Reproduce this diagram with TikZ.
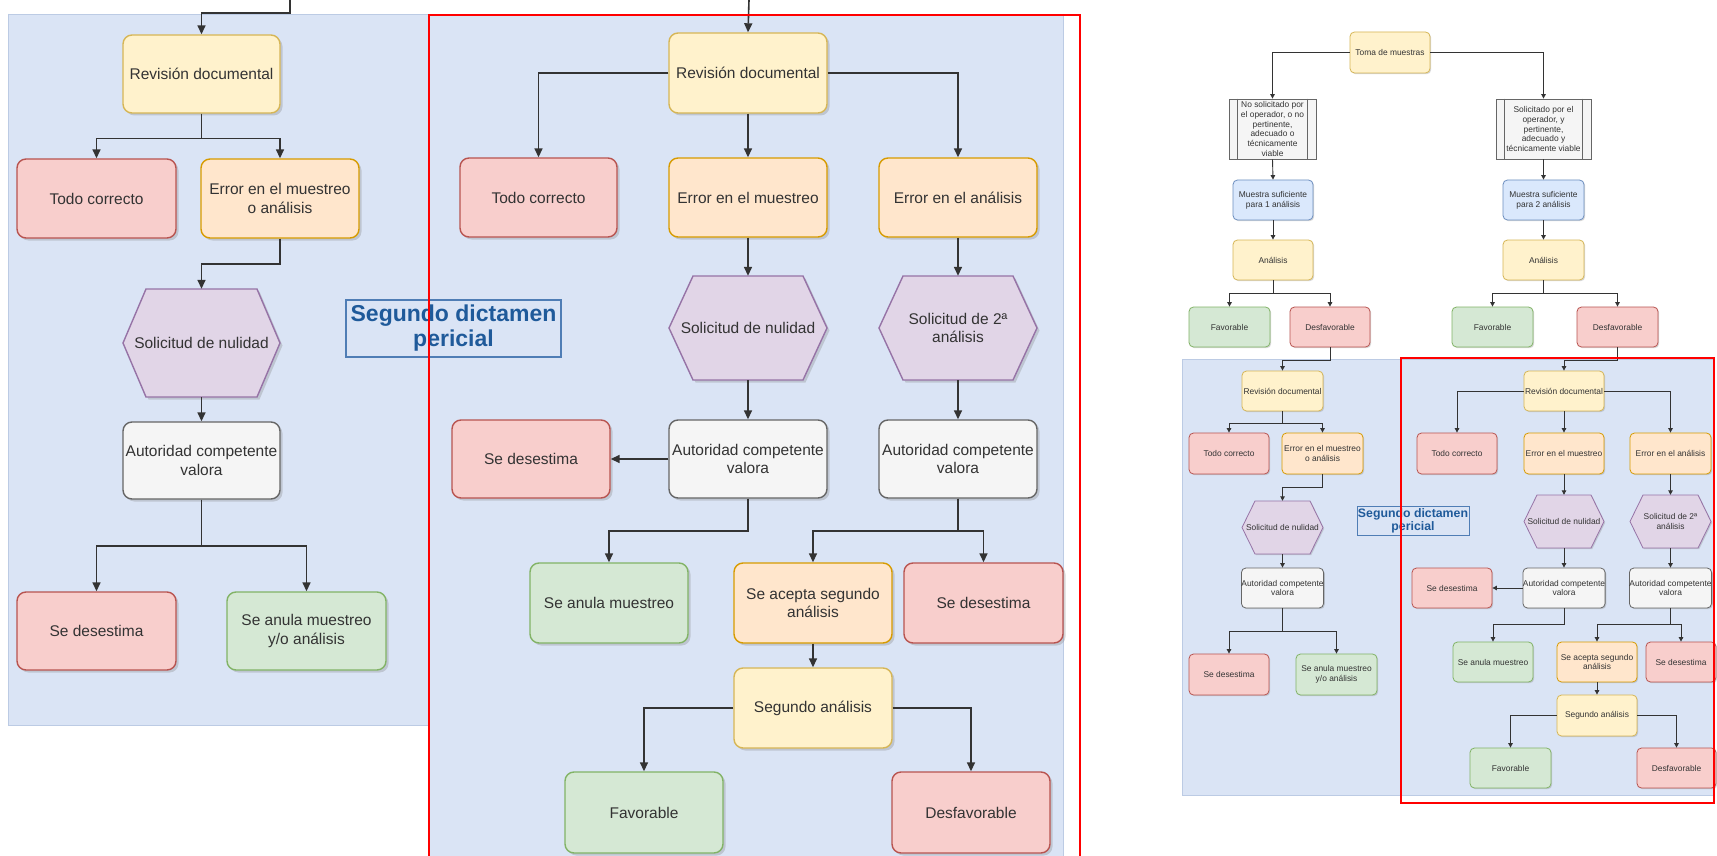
\documentclass[tikz,border=0pt]{standalone}
\usepackage{fontspec}
\setmainfont{Liberation Sans}
\usetikzlibrary{arrows.meta,shadows}

\definecolor{bgblue}{RGB}{218,228,245}
\definecolor{bgline}{RGB}{188,203,228}
\definecolor{yfill}{HTML}{FFF2CC}\definecolor{ydraw}{HTML}{D6B656}
\definecolor{rfill}{HTML}{F8CECC}\definecolor{rdraw}{HTML}{B85450}
\definecolor{ofill}{HTML}{FFE6CC}\definecolor{odraw}{HTML}{D79B00}
\definecolor{gfill}{HTML}{D5E8D4}\definecolor{gdraw}{HTML}{82B366}
\definecolor{pfill}{HTML}{E1D5E7}\definecolor{pdraw}{HTML}{9673A6}
\definecolor{wfill}{HTML}{F5F5F5}\definecolor{wdraw}{HTML}{666666}
\definecolor{bfill}{HTML}{DAE8FC}\definecolor{bdraw}{HTML}{6C8EBF}
\definecolor{txt}{HTML}{333333}
\definecolor{lc}{HTML}{333333}
\definecolor{lblue}{HTML}{4F7DB5}
\definecolor{dblue}{HTML}{1F5A9A}

\newcommand\bigf{\fontsize{15.5}{18.5}\selectfont}
\newcommand\minif{\fontsize{8.4}{9.8}\selectfont}

% rounded box given by its corners: style, name, x1, y1, x2, y2, text
\newcommand\bx[7]{\node[#1,minimum width={(#5-#3)*1pt},minimum height={(#6-#4)*1pt}] (#2) at ({(#3+#5)/2},{(#4+#6)/2}) {#7};}
% hexagon: path style, text style, name, x1, y1, x2, y2, inset, text
\newcommand\hx[9]{%
  \path[#1] ({#4+#8},#5) -- ({#6-#8},#5) -- (#6,{(#5+#7)/2}) -- ({#6-#8},#7) -- ({#4+#8},#7) -- (#4,{(#5+#7)/2}) -- cycle;
  \node[#2,minimum width={(#6-#4)*1pt},minimum height={(#7-#5)*1pt}] (#3) at ({(#4+#6)/2},{(#5+#7)/2}) {#9};}

\tikzset{
  bigbox/.style={rounded corners=9pt, line width=1.4pt,
    drop shadow={shadow xshift=2.5pt,shadow yshift=-2.5pt,opacity=0.3},
    font=\bigf, text=txt, align=center, inner sep=0pt},
  minibox/.style={rounded corners=4.5pt, line width=0.8pt,
    drop shadow={shadow xshift=1.2pt,shadow yshift=-1.2pt,opacity=0.3},
    font=\minif, text=txt, align=center, inner sep=0pt},
  bighex/.style={fill=pfill, draw=pdraw, line width=1.4pt,
    drop shadow={shadow xshift=2.5pt,shadow yshift=-2.5pt,opacity=0.3}},
  minihex/.style={fill=pfill, draw=pdraw, line width=0.8pt,
    drop shadow={shadow xshift=1.2pt,shadow yshift=-1.2pt,opacity=0.3}},
  bighextext/.style={font=\bigf, text=txt, align=center, inner sep=0pt},
  minihextext/.style={font=\minif, text=txt, align=center, inner sep=0pt},
  cy/.style={fill=yfill, draw=ydraw},
  cr/.style={fill=rfill, draw=rdraw},
  co/.style={fill=ofill, draw=odraw},
  cg/.style={fill=gfill, draw=gdraw},
  cw/.style={fill=wfill, draw=wdraw},
  cb/.style={fill=bfill, draw=bdraw},
  bigarr/.style={draw=lc, line width=1.6pt, -{Triangle[length=9pt,width=8pt]}},
  miniarr/.style={draw=lc, line width=0.9pt, -{Triangle[length=4.5pt,width=4.5pt]}},
  biglabel/.style={draw=lblue, line width=1.2pt, text=dblue, align=center,
    font=\bfseries\fontsize{23}{25}\selectfont, inner sep=0pt},
  minilabel/.style={draw=lblue, line width=0.7pt, text=dblue, align=center,
    font=\bfseries\fontsize{12.3}{13.5}\selectfont, inner sep=0pt},
  redframe/.style={draw=red, line width=2.2pt},
}

\begin{document}
\begin{tikzpicture}[x=1pt,y=-1pt]
\useasboundingbox (0,0) rectangle (1717,856);
\fill[white] (0,0) rectangle (1717,856);

% ---------- enlarged view: background panels ----------
\fill[bgblue] (8,14) rectangle (1063,725);
\fill[bgblue] (429,14) rectangle (1063,856);
\draw[bgline, line width=0.8pt] (8,14) -- (1063,14);
\draw[bgline, line width=0.8pt] (1063,14) -- (1063,856);
\draw[bgline, line width=0.8pt] (8,14) -- (8,725) -- (429,725);

% ---------- enlarged view: first branch ----------
\bx{bigbox,cy}{revA}{123}{35}{280}{113}{Revisión documental}
\bx{bigbox,cr}{todoA}{17}{159}{176}{238}{Todo correcto}
\bx{bigbox,co}{errA}{201}{159}{359}{238}{Error en el muestreo\\o análisis}
\hx{bighex}{bighextext}{hexA}{123}{289}{280}{397}{23}{Solicitud de nulidad}
\bx{bigbox,cw}{autA}{123}{422}{280}{499}{Autoridad competente\\valora}
\bx{bigbox,cr}{desA}{17}{592}{176}{670}{Se desestima}
\bx{bigbox,cg}{anuA}{227}{592}{386}{670}{Se anula muestreo\\y/o análisis}

\coordinate (inA) at (290,0);
\draw[bigarr] (inA) -- ++(0,13) -| (revA.north);
\draw[bigarr] (revA.south) -- ++(0,25) -| (todoA.north);
\draw[bigarr] (revA.south) -- ++(0,25) -| (errA.north);
\draw[bigarr] (errA.south) -- ++(0,25) -| (hexA.north);
\draw[bigarr] (hexA.south) -- (autA.north);
\draw[bigarr] (autA.south) -- ++(0,46) -| (desA.north);
\draw[bigarr] (autA.south) -- ++(0,46) -| (anuA.north);

\node[biglabel, minimum width=215pt, minimum height=57pt] (lblA) at (453.5,328.5) {Segundo dictamen\\pericial};

% ---------- enlarged view: second branch ----------
\bx{bigbox,cy}{revB}{669}{33}{827}{113}{Revisión documental}
\bx{bigbox,cr}{todoB}{460}{158}{617}{237}{Todo correcto}
\bx{bigbox,co}{emB}{669}{158}{827}{237}{Error en el muestreo}
\bx{bigbox,co}{eaB}{879}{158}{1037}{237}{Error en el análisis}
\hx{bighex}{bighextext}{hexB1}{669}{276}{827}{380}{24}{Solicitud de nulidad}
\hx{bighex}{bighextext}{hexB2}{879}{276}{1037}{380}{24}{Solicitud de 2ª\\análisis}
\bx{bigbox,cw}{autB1}{669}{420}{827}{498}{Autoridad competente\\valora}
\bx{bigbox,cw}{autB2}{879}{420}{1037}{498}{Autoridad competente\\valora}
\bx{bigbox,cr}{desB1}{452}{420}{610}{498}{Se desestima}
\bx{bigbox,cg}{anuB}{530}{563}{688}{643}{Se anula muestreo}
\bx{bigbox,co}{aceB}{734}{563}{892}{643}{Se acepta segundo\\análisis}
\bx{bigbox,cr}{desB2}{904}{563}{1063}{643}{Se desestima}
\bx{bigbox,cy}{segB}{734}{668}{892}{748}{Segundo análisis}
\bx{bigbox,cg}{favB}{565}{772}{723}{853}{Favorable}
\bx{bigbox,cr}{dfvB}{892}{772}{1050}{853}{Desfavorable}

\coordinate (inB) at (749,0);
\draw[bigarr] (inB) -- (revB.north);
\draw[bigarr] (revB.west) -| (todoB.north);
\draw[bigarr] (revB.south) -- (emB.north);
\draw[bigarr] (revB.east) -| (eaB.north);
\draw[bigarr] (emB.south) -- (hexB1.north);
\draw[bigarr] (eaB.south) -- (hexB2.north);
\draw[bigarr] (hexB1.south) -- (autB1.north);
\draw[bigarr] (hexB2.south) -- (autB2.north);
\draw[bigarr] (autB1.west) -- (desB1.east);
\draw[bigarr] (autB1.south) -- ++(0,32) -| (anuB.north);
\draw[bigarr] (autB2.south) -- ++(0,32) -| (aceB.north);
\draw[bigarr] (autB2.south) -- ++(0,32) -| (desB2.north);
\draw[bigarr] (aceB.south) -- (segB.north);
\draw[bigarr] (segB.west) -| (favB.north);
\draw[bigarr] (segB.east) -| (dfvB.north);

\draw[redframe] (429,862) -- (429,15) -- (1080,15) -- (1080,862);

% ---------- complete flowchart ----------
\fill[bgblue] (1182,359) rectangle (1713,795);
\draw[bgline, line width=0.7pt] (1182,359) rectangle (1713,795);

\bx{minibox,cy}{toma}{1350}{32}{1430}{73}{Toma de muestras}
\bx{minibox,cw,rounded corners=0pt}{gL}{1229}{99}{1316}{159}{No solicitado por\\el operador, o no\\pertinente,\\adecuado o\\técnicamente\\viable}
\bx{minibox,cw,rounded corners=0pt}{gR}{1496}{99}{1591}{159}{Solicitado por el\\operador, y\\pertinente,\\adecuado y\\técnicamente viable}
\draw[wdraw, line width=0.8pt] ([xshift=9pt]gL.north west) -- ([xshift=9pt]gL.south west);
\draw[wdraw, line width=0.8pt] ([xshift=-9pt]gL.north east) -- ([xshift=-9pt]gL.south east);
\draw[wdraw, line width=0.8pt] ([xshift=9pt]gR.north west) -- ([xshift=9pt]gR.south west);
\draw[wdraw, line width=0.8pt] ([xshift=-9pt]gR.north east) -- ([xshift=-9pt]gR.south east);
\bx{minibox,cb}{m1}{1233}{180}{1313}{220}{Muestra suficiente\\para 1 análisis}
\bx{minibox,cb}{m2}{1503}{180}{1584}{220}{Muestra suficiente\\para 2 análisis}
\bx{minibox,cy}{an1}{1233}{240}{1313}{280}{Análisis}
\bx{minibox,cy}{an2}{1503}{240}{1584}{280}{Análisis}
\bx{minibox,cg}{fav1}{1189}{307}{1270}{347}{Favorable}
\bx{minibox,cr}{dfv1}{1290}{307}{1370}{347}{Desfavorable}
\bx{minibox,cg}{fav2}{1452}{307}{1533}{347}{Favorable}
\bx{minibox,cr}{dfv2}{1577}{307}{1658}{347}{Desfavorable}

\draw[miniarr] (toma.west) -| (gL.north);
\draw[miniarr] (toma.east) -| (gR.north);
\draw[miniarr] (gL.south) -- (m1.north);
\draw[miniarr] (gR.south) -- (m2.north);
\draw[miniarr] (m1.south) -- (an1.north);
\draw[miniarr] (m2.south) -- (an2.north);
\draw[miniarr] (an1.south) -- ++(0,13) -| (fav1.north);
\draw[miniarr] (an1.south) -- ++(0,13) -| (dfv1.north);
\draw[miniarr] (an2.south) -- ++(0,13) -| (fav2.north);
\draw[miniarr] (an2.south) -- ++(0,13) -| (dfv2.north);

% first branch after an unfavourable result
\bx{minibox,cy}{revC}{1242}{371}{1323}{411}{Revisión documental}
\bx{minibox,cr}{todoC}{1189}{433}{1269}{474}{Todo correcto}
\bx{minibox,co}{errC}{1282}{433}{1363}{474}{Error en el muestreo\\o análisis}
\hx{minihex}{minihextext}{hexC}{1242}{501}{1323}{554}{13}{Solicitud de nulidad}
\bx{minibox,cw}{autC}{1242}{568}{1323}{608}{Autoridad competente\\valora}
\bx{minibox,cr}{desC}{1189}{654}{1269}{695}{Se desestima}
\bx{minibox,cg}{anuC}{1296}{654}{1377}{695}{Se anula muestreo\\y/o análisis}

\draw[miniarr] (dfv1.south) -- ++(0,13) -| (revC.north);
\draw[miniarr] (revC.south) -- ++(0,12) -| (todoC.north);
\draw[miniarr] (revC.south) -- ++(0,12) -| (errC.north);
\draw[miniarr] (errC.south) -- ++(0,13) -| (hexC.north);
\draw[miniarr] (hexC.south) -- (autC.north);
\draw[miniarr] (autC.south) -- ++(0,23) -| (desC.north);
\draw[miniarr] (autC.south) -- ++(0,23) -| (anuC.north);

\node[minilabel, minimum width=112pt, minimum height=29pt] (lblC) at (1413,521) {Segundo dictamen\\pericial};

% second branch after an unfavourable result
\bx{minibox,cy}{revD}{1524}{371}{1604}{411}{Revisión documental}
\bx{minibox,cr}{todoD}{1417}{433}{1497}{474}{Todo correcto}
\bx{minibox,co}{emD}{1524}{433}{1604}{474}{Error en el muestreo}
\bx{minibox,co}{eaD}{1630}{433}{1711}{474}{Error en el análisis}
\hx{minihex}{minihextext}{hexD1}{1524}{495}{1604}{548}{13}{Solicitud de nulidad}
\hx{minihex}{minihextext}{hexD2}{1630}{495}{1711}{548}{13}{Solicitud de 2ª\\análisis}
\bx{minibox,cw}{autD1}{1524}{568}{1604}{608}{Autoridad competente\\valora}
\bx{minibox,cw}{autD2}{1630}{568}{1711}{608}{Autoridad competente\\valora}
\bx{minibox,cr}{desD1}{1412}{568}{1492}{608}{Se desestima}
\bx{minibox,cg}{anuD}{1453}{642}{1533}{682}{Se anula muestreo}
\bx{minibox,co}{aceD}{1557}{642}{1637}{682}{Se acepta segundo\\análisis}
\bx{minibox,cr}{desD2}{1646}{642}{1716}{682}{Se desestima}
\bx{minibox,cy}{segD}{1557}{695}{1637}{736}{Segundo análisis}
\bx{minibox,cg}{favD}{1470}{748}{1551}{788}{Favorable}
\bx{minibox,cr}{dfvD}{1637}{748}{1716}{788}{Desfavorable}

\draw[miniarr] (dfv2.south) -- ++(0,13) -| (revD.north);
\draw[miniarr] (revD.west) -| (todoD.north);
\draw[miniarr] (revD.south) -- (emD.north);
\draw[miniarr] (revD.east) -| (eaD.north);
\draw[miniarr] (emD.south) -- (hexD1.north);
\draw[miniarr] (eaD.south) -- (hexD2.north);
\draw[miniarr] (hexD1.south) -- (autD1.north);
\draw[miniarr] (hexD2.south) -- (autD2.north);
\draw[miniarr] (autD1.west) -- (desD1.east);
\draw[miniarr] (autD1.south) -- ++(0,16) -| (anuD.north);
\draw[miniarr] (autD2.south) -- ++(0,16) -| (aceD.north);
\draw[miniarr] (autD2.south) -- ++(0,16) -| (desD2.north);
\draw[miniarr] (aceD.south) -- (segD.north);
\draw[miniarr] (segD.west) -| (favD.north);
\draw[miniarr] (segD.east) -| (dfvD.north);

\draw[redframe] (1401,358) rectangle (1714,803);
\end{tikzpicture}
\end{document}
